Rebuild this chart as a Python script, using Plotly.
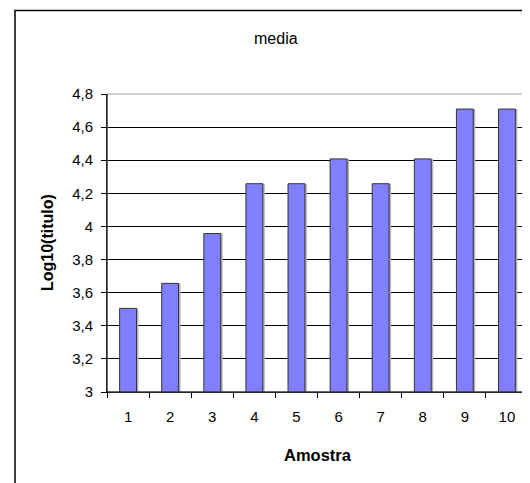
import plotly.graph_objects as go

categories = ["1", "2", "3", "4", "5", "6", "7", "8", "9", "10"]
media_values = [3.505, 3.656, 3.957, 4.258, 4.258, 4.408, 4.258, 4.408, 4.709, 4.709]
y_tick_values = [3.0, 3.2, 3.4, 3.6, 3.8, 4.0, 4.2, 4.4, 4.6, 4.8]
y_tick_labels = ["3", "3,2", "3,4", "3,6", "3,8", "4", "4,2", "4,4", "4,6", "4,8"]

# page body has an 8px default margin; size the figure to the visible window
OFF = 8
W, H = 530 - OFF, 483 - OFF
ML, MR, MT, MB = 107 - OFF, 2, 94 - OFF, 91
PW = W - ML - MR
PH = H - MT - MB

def px_x(p):
    return (p - OFF - ML) / PW

def px_y(p):
    return (H - MB - (p - OFF)) / PH

FONT = "Liberation Sans, Arial, sans-serif"
BAR_W = 0.4
SHADOW_SHIFT = 2.0 / (PW / len(categories))  # ~2px in category units

fig = go.Figure()
# soft drop shadow like Excel's
fig.add_trace(go.Bar(
    x=categories,
    y=media_values,
    marker=dict(color="#B4B4B4", line=dict(width=0)),
    width=BAR_W,
    offset=-BAR_W / 2 + SHADOW_SHIFT,
    hoverinfo="skip",
))
fig.add_trace(go.Bar(
    x=categories,
    y=media_values,
    marker=dict(color="#8080FF", line=dict(color="#333333", width=1)),
    width=BAR_W,
    offset=-BAR_W / 2,
))

fig.update_layout(
    width=W, height=H,
    margin=dict(l=ML, r=MR, t=MT, b=MB),
    paper_bgcolor="white",
    plot_bgcolor="white",
    showlegend=False,
    barmode="overlay",
    font=dict(family=FONT, size=15, color="black"),
    separators=",.",
    xaxis=dict(
        type="category",
        tickson="boundaries",
        ticks="outside", ticklen=5, tickcolor="black", tickwidth=1,
        showline=True, linecolor="black", linewidth=1,
        showgrid=False,
        ticklabelstandoff=11,
        tickfont=dict(size=15),
    ),
    yaxis=dict(
        range=[3, 4.8],
        tickvals=y_tick_values,
        ticktext=y_tick_labels,
        ticks="outside", ticklen=5, tickcolor="black", tickwidth=1,
        showline=True, linecolor="black", linewidth=1,
        showgrid=True, gridcolor="black", gridwidth=1,
        zeroline=False,
        ticklabelstandoff=5,
        tickfont=dict(size=15),
    ),
    shapes=[
        dict(type="rect", xref="paper", yref="paper", x0=0, x1=1, y0=0, y1=1,
             line=dict(color="#A0A0A0", width=1), layer="above"),
        dict(type="rect", xref="paper", yref="paper",
             x0=px_x(15), x1=px_x(545), y0=px_y(500), y1=px_y(10.5),
             line=dict(color="black", width=1.5), layer="above"),
    ],
    annotations=[
        dict(text="media", xref="paper", yref="paper", x=px_x(276), y=px_y(38),
             showarrow=False, font=dict(size=16), xanchor="center", yanchor="middle"),
        dict(text="<b>Log10(titulo)</b>", xref="paper", yref="paper", x=px_x(47), y=0.5,
             textangle=-90, showarrow=False, font=dict(size=16), xanchor="center", yanchor="middle"),
        dict(text="<b>Amostra</b>", xref="paper", yref="paper", x=0.5, y=px_y(455),
             showarrow=False, font=dict(size=16.5), xanchor="center", yanchor="middle"),
    ],
)

fig.add_shape(type="line", xref="paper", yref="paper", x0=0, x1=0, y0=0, y1=1,
              line=dict(color="black", width=1), layer="above")
fig.add_shape(type="line", xref="paper", yref="paper", x0=0, x1=1, y0=0, y1=0,
              line=dict(color="black", width=1), layer="above")

fig.write_html("out.html")
